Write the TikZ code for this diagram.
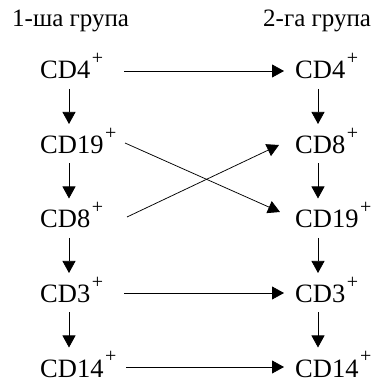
\documentclass[tikz,border=0pt]{standalone}
\usepackage{fontspec}
\setmainfont{Liberation Serif}
\usetikzlibrary{arrows.meta,calc}
\newcommand\supplus{\kern1.5pt\raisebox{14pt}{\fontsize{20}{20}\selectfont +}}
\begin{document}
\begin{tikzpicture}[x=1pt,y=1pt,
  lab/.style={inner sep=0pt,anchor=base west,font=\fontsize{26.5}{30}\selectfont},
  ttl/.style={inner sep=0pt,anchor=base west,font=\fontsize{25}{28}\selectfont},
  arr/.style={line width=0.75pt,-{Triangle[length=12pt,width=13pt]}}]
\useasboundingbox (0,0) rectangle (381,385);
% titles
\node[ttl] (t1) at (12,358) {1-ша група};
\node[ttl] (t2) at (263,358) {2-га група};
% column guides
\coordinate (LV) at (69,0);
\coordinate (RV) at (318,0);
\coordinate (HS) at (124,0);
\coordinate (HE) at (284,0);
% left column
\node[lab] (l1) at (40,306) {CD4\supplus};
\node[lab] (l2) at (40,231.5) {CD19\supplus};
\node[lab] (l3) at (40,157) {CD8\supplus};
\node[lab] (l4) at (40,82.5) {CD3\supplus};
\node[lab] (l5) at (40,8) {CD14\supplus};
% right column
\node[lab] (r1) at (295,306) {CD4\supplus};
\node[lab] (r2) at (295,231.5) {CD8\supplus};
\node[lab] (r3) at (295,157) {CD19\supplus};
\node[lab] (r4) at (295,82.5) {CD3\supplus};
\node[lab] (r5) at (295,8) {CD14\supplus};
% vertical arrows
\foreach \a/\b in {1/2,2/3,3/4,4/5}{
  \draw[arr] ($(l\a.base -| LV)+(0,-10)$) -- ($(l\b.base -| LV)+(0,29.5)$);
  \draw[arr] ($(r\a.base -| RV)+(0,-10)$) -- ($(r\b.base -| RV)+(0,29.5)$);
}
% horizontal arrows
\draw[arr] ($(l1.base -| HS)+(0,8)$) -- ($(r1.base -| HE)+(0,8)$);
\draw[arr] ($(l4.base -| HS)+(0,9.5)$) -- ($(r4.base -| HE)+(0,9.5)$);
\draw[arr] ($(l5.base -| HS)+(2,10)$) -- ($(r5.base -| HE)+(0,10)$);
% crossing arrows
\draw[arr] ($(l2.base -| HS)+(1,10.5)$) -- ($(r3.base -| HE)+(-4,16)$);
\draw[arr] ($(l3.base -| HS)+(3,11)$) -- ($(r2.base -| HE)+(-5,8.5)$);
\end{tikzpicture}
\end{document}
